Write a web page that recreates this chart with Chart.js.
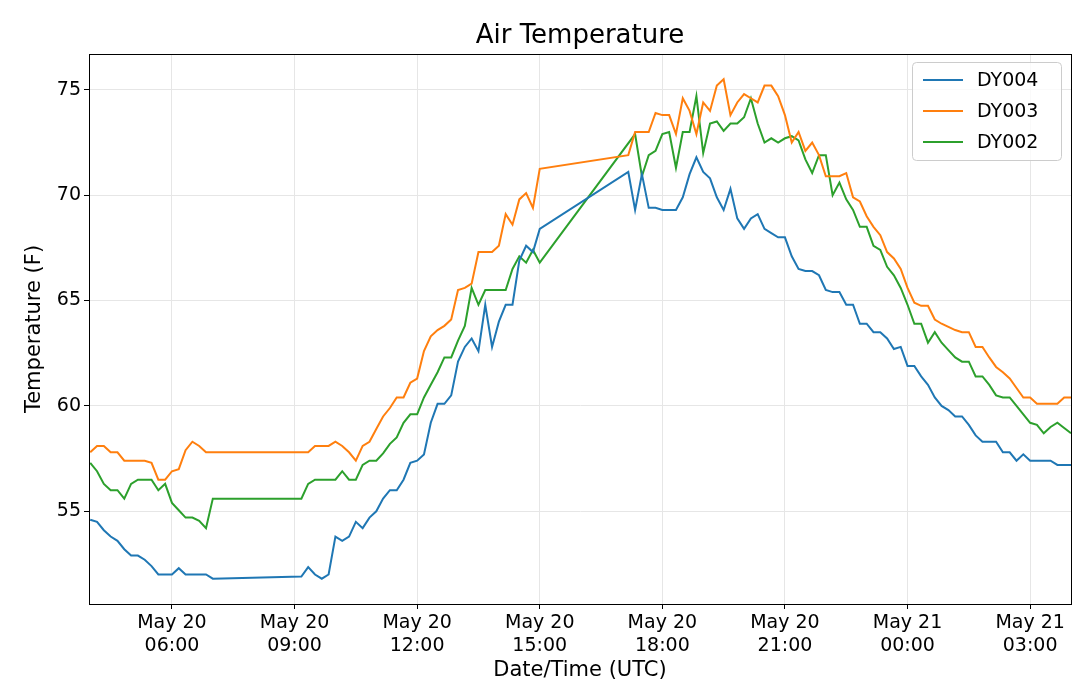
<!DOCTYPE html>
<html>
<head>
<meta charset="utf-8">
<script src="https://cdn.jsdelivr.net/npm/chart.js@4/dist/chart.umd.min.js"></script>
<style>
  body { margin: 0; background: #fff; }
  #wrap { width: 1079px; height: 691px; }
</style>
</head>
<body>
<div id="wrap"><canvas id="tempChart"></canvas></div>
<script>
// readings every 10 minutes starting May 20 04:00 UTC; null = no reading
const startHour = 4;
const stepMinutes = 10;
const tickHours = [6, 9, 12, 15, 18, 21, 24, 27];
const yTicks = [55, 60, 65, 70, 75];
const gap12 = Array(12).fill(null);

const dy004 = [54.6, 54.5, 54.1, 53.8, 53.6, 53.2, 52.9, 52.9, 52.7, 52.4, 52.0, 52.0, 52.0, 52.3, 52.0, 52.0, 52.0, 52.0, 51.8,
  ...gap12,
  51.9, 52.35, 52.0, 51.8, 52.0, 53.8, 53.6, 53.8, 54.5, 54.2, 54.7, 55.0, 55.6, 56.0, 56.0, 56.5, 57.3, 57.4,
  57.7, 59.2, 60.1, 60.1, 60.5, 62.1, 62.8, 63.2, 62.6, 64.8, 62.8, 64.0, 64.8, 64.8, 66.9, 67.6, 67.3, 68.4,
  ...gap12,
  71.1, 69.3, 71.0, 69.4, 69.4, 69.3, 69.3, 69.3, 69.9, 71.0, 71.8, 71.1, 70.8, 69.9, 69.3, 70.3, 68.9, 68.4,
  68.9, 69.1, 68.4, 68.2, 68.0, 68.0, 67.1, 66.5, 66.4, 66.4, 66.2, 65.5, 65.4, 65.4, 64.8, 64.8, 63.9, 63.9,
  63.5, 63.5, 63.2, 62.7, 62.8, 61.9, 61.9, 61.4, 61.0, 60.4, 60.0, 59.8, 59.5, 59.5, 59.1, 58.6, 58.3, 58.3,
  58.3, 57.8, 57.8, 57.4, 57.7, 57.4, 57.4, 57.4, 57.4, 57.2, 57.2, 57.2];

const dy003 = [57.8, 58.1, 58.1, 57.8, 57.8, 57.4, 57.4, 57.4, 57.4, 57.3, 56.5, 56.5, 56.9, 57.0, 57.9, 58.3, 58.1, 57.8, 57.8,
  ...gap12,
  57.8, 57.8, 58.1, 58.1, 58.1, 58.3, 58.1, 57.8, 57.4, 58.1, 58.3, 58.9, 59.5, 59.9, 60.4, 60.4, 61.1, 61.3,
  62.6, 63.3, 63.6, 63.8, 64.1, 65.5, 65.6, 65.8, 67.3, 67.3, 67.3, 67.6, 69.1, 68.6, 69.8, 70.1, 69.4, 71.25,
  ...gap12,
  71.9, 73.0, 73.0, 73.0, 73.9, 73.8, 73.8, 72.9, 74.6, 74.0, 72.9, 74.4, 74.0, 75.2, 75.5, 73.8, 74.4, 74.8,
  74.6, 74.4, 75.2, 75.2, 74.7, 73.8, 72.5, 73.0, 72.1, 72.5, 71.9, 70.9, 70.9, 70.9, 71.05, 69.9, 69.7, 69.0,
  68.5, 68.1, 67.3, 67.0, 66.5, 65.6, 64.9, 64.75, 64.75, 64.1, 63.9, 63.75, 63.6, 63.5, 63.5, 62.8, 62.8, 62.3,
  61.85, 61.6, 61.3, 60.85, 60.4, 60.4, 60.1, 60.1, 60.1, 60.1, 60.4, 60.4];

const dy002 = [57.3, 56.9, 56.3, 56.0, 56.0, 55.6, 56.3, 56.5, 56.5, 56.5, 56.0, 56.3, 55.4, 55.05, 54.7, 54.7, 54.55, 54.2, 55.6,
  ...gap12,
  55.6, 56.3, 56.5, 56.5, 56.5, 56.5, 56.9, 56.5, 56.5, 57.2, 57.4, 57.4, 57.75, 58.2, 58.5, 59.2, 59.6, 59.6,
  60.4, 61.0, 61.6, 62.3, 62.3, 63.1, 63.8, 65.6, 64.8, 65.5, 65.5, 65.5, 65.5, 66.5, 67.1, 66.8, 67.4, 66.8,
  ...gap12, null,
  72.9, 70.9, 71.9, 72.1, 72.9, 73.0, 71.3, 73.0, 73.0, 74.7, 72.0, 73.4, 73.5, 73.05, 73.4, 73.4, 73.7,
  74.6, 73.4, 72.5, 72.7, 72.5, 72.7, 72.8, 72.6, 71.7, 71.05, 71.9, 71.9, 70.0, 70.6, 69.8, 69.3, 68.5, 68.5,
  67.6, 67.4, 66.6, 66.2, 65.6, 64.8, 63.9, 63.9, 63.0, 63.5, 63.0, 62.65, 62.3, 62.1, 62.1, 61.4, 61.4, 61.0,
  60.5, 60.4, 60.4, 60.0, 59.6, 59.2, 59.1, 58.7, 59.0, 59.2, 58.95, 58.7];

const toHours = i => startHour + i * stepMinutes / 60;
const toPoints = arr => arr.map((v, i) => ({ x: toHours(i), y: v }));

const hourLabel = h => {
  const day = h >= 24 ? 21 : 20;
  const hh = String(h % 24).padStart(2, '0');
  return ['May ' + day, hh + ':00'];
};

const fontFamily = "'DejaVu Sans', sans-serif";

// frame, title and legend box drawn by hand
const framePlugin = {
  id: 'frame',
  afterDraw(chart) {
    const { ctx, chartArea: a } = chart;
    ctx.save();
    ctx.strokeStyle = '#000';
    ctx.lineWidth = 1;
    ctx.strokeRect(a.left + 0.5, a.top + 0.5, a.right - a.left, a.bottom - a.top);

    ctx.fillStyle = '#000';
    ctx.font = "26px " + fontFamily;
    ctx.textAlign = 'center';
    ctx.textBaseline = 'middle';
    ctx.fillText('Air Temperature', (a.left + a.right) / 2, 36);

    const bx = a.right - 159, by = a.top + 8, bw = 149, bh = 98;
    ctx.fillStyle = 'rgba(255,255,255,0.8)';
    ctx.strokeStyle = '#cccccc';
    ctx.beginPath();
    ctx.roundRect(bx + 0.5, by + 0.5, bw, bh, 4);
    ctx.fill();
    ctx.stroke();
    ctx.font = "19px " + fontFamily;
    ctx.textAlign = 'left';
    chart.data.datasets.forEach((ds, k) => {
      const yy = by + 18 + k * 31;
      ctx.strokeStyle = ds.borderColor;
      ctx.lineWidth = 2;
      ctx.beginPath();
      ctx.moveTo(bx + 11, yy);
      ctx.lineTo(bx + 51, yy);
      ctx.stroke();
      ctx.fillStyle = '#000';
      ctx.fillText(ds.label, bx + 65, yy + 1);
    });
    ctx.restore();
  }
};

new Chart(document.getElementById('tempChart').getContext('2d'), {
  type: 'line',
  data: {
    datasets: [
      { label: 'DY004', data: toPoints(dy004), borderColor: '#1f77b4' },
      { label: 'DY003', data: toPoints(dy003), borderColor: '#ff7f0e' },
      { label: 'DY002', data: toPoints(dy002), borderColor: '#2ca02c' }
    ]
  },
  options: {
    responsive: true,
    maintainAspectRatio: false,
    animation: false,
    spanGaps: true,
    elements: {
      point: { radius: 0 },
      line: { borderWidth: 2, tension: 0 }
    },
    layout: { padding: { top: 54, right: 8, left: 22, bottom: 8 } },
    plugins: {
      legend: { display: false },
      tooltip: { enabled: false }
    },
    scales: {
      x: {
        type: 'linear',
        min: startHour - 0.03,
        max: 28.0,
        afterBuildTicks: axis => { axis.ticks = tickHours.map(v => ({ value: v })); },
        afterFit: axis => { axis.height = 79; },
        ticks: {
          autoSkip: false,
          maxRotation: 0,
          color: '#000',
          font: { family: fontFamily, size: 19 },
          callback: v => hourLabel(v)
        },
        grid: { color: '#e6e6e6', drawTicks: true, tickLength: 5, tickColor: '#000' },
        border: { color: '#000' },
        title: { display: true, text: 'Date/Time (UTC)', color: '#000', font: { family: fontFamily, size: 21 }, padding: 0 }
      },
      y: {
        min: 50.6,
        max: 76.7,
        afterBuildTicks: axis => { axis.ticks = yTicks.map(v => ({ value: v })); },
        afterFit: axis => { axis.width = 67; },
        ticks: { color: '#000', font: { family: fontFamily, size: 19 } },
        grid: { color: '#e6e6e6', tickLength: 5, tickColor: '#000' },
        border: { color: '#000' },
        title: { display: true, text: 'Temperature (F)', color: '#000', font: { family: fontFamily, size: 21 }, padding: 0 }
      }
    }
  },
  plugins: [framePlugin]
});
</script>
</body>
</html>
